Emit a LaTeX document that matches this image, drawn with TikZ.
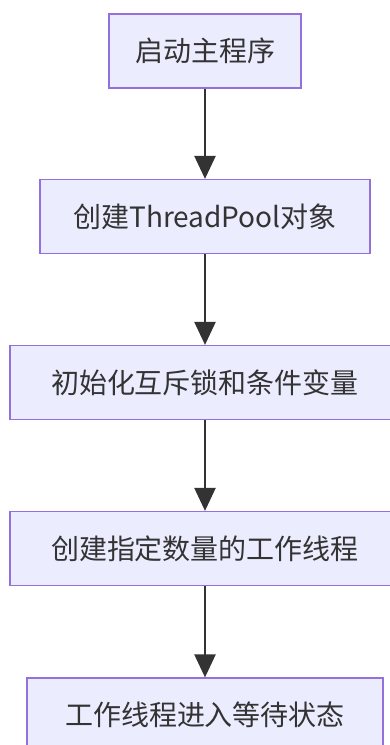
\documentclass[tikz,border=0pt]{standalone}
\usepackage{fontspec}
\setmainfont{Noto Sans CJK SC}
\usetikzlibrary{arrows.meta}
\definecolor{boxfill}{HTML}{ECECFF}
\definecolor{boxline}{HTML}{9370DB}
\definecolor{textgray}{HTML}{333333}
\begin{document}
\begin{tikzpicture}[x=1pt,y=-1pt,
    stepbox/.style={draw=boxline,fill=boxfill,line width=1.2pt,minimum height=74pt,
      inner sep=0pt,text=textgray,font=\fontsize{28}{32}\selectfont}]
      \useasboundingbox (0,0) rectangle (390,745);
      \draw
        (205,51) node[stepbox,minimum width=192pt] (start){启动主程序}
        (205,216.5) node[stepbox,minimum width=330pt] (pool){创建ThreadPool对象}
        (205,382.5) node[stepbox,minimum width=390pt] (init){初始化互斥锁和条件变量}
        (205,548.5) node[stepbox,minimum width=390pt] (workers){创建指定数量的工作线程}
        (205,715) node[stepbox,minimum width=356pt] (wait){工作线程进入等待状态};
      \begin{scope}[draw=textgray,line width=2.4pt,-{Triangle[width=21pt,length=23pt]}]
        \draw (start) to (pool);
        \draw (pool) to (init);
        \draw (init) to (workers);
        \draw (workers) to (wait);
      \end{scope}
    \end{tikzpicture}
\end{document}
